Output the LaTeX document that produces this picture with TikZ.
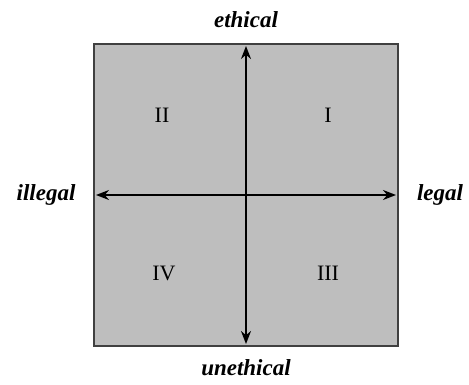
\documentclass[tikz,border=0pt]{standalone}
\usepackage{fontspec}
\setmainfont{Liberation Serif}
\usetikzlibrary{arrows.meta}
\definecolor{boxgray}{RGB}{190,190,190}

\begin{document}
\begin{tikzpicture}[x=1pt,y=1pt,
    axis/.style={{Stealth[length=13pt,width=10pt]}-{Stealth[length=13pt,width=10pt]}, line width=1.8pt},
    side/.style={anchor=base, font=\fontsize{23}{23}\selectfont\bfseries\itshape},
    quad/.style={font=\fontsize{22}{22}\selectfont}]
    \useasboundingbox (0,0) rectangle (469,384);
    % Feld
    \filldraw[fill=boxgray, draw=black!75, line width=1.6pt] (94,38) rectangle (398,340);
    % Achsen
    \coordinate (west) at (96,189);
    \coordinate (east) at (396,189);
    \coordinate (north) at (246,338);
    \coordinate (south) at (246,40);
    \draw[axis] (west) -- (east);
    \draw[axis] (south) -- (north);
    % Beschriftung
    \node[side] (ethical) at (246,356) {ethical};
    \node[side] (unethical) at (246,9) {unethical};
    \node[side] (illegal) at (46,184) {illegal};
    \node[side] (legal) at (440,184) {legal};
    % Quadranten
    \node[quad] (qI) at (328,269) {I};
    \node[quad] (qII) at (162,269) {II};
    \node[quad] (qIII) at (328,111) {III};
    \node[quad] (qIV) at (164,111) {IV};
\end{tikzpicture}
\end{document}
